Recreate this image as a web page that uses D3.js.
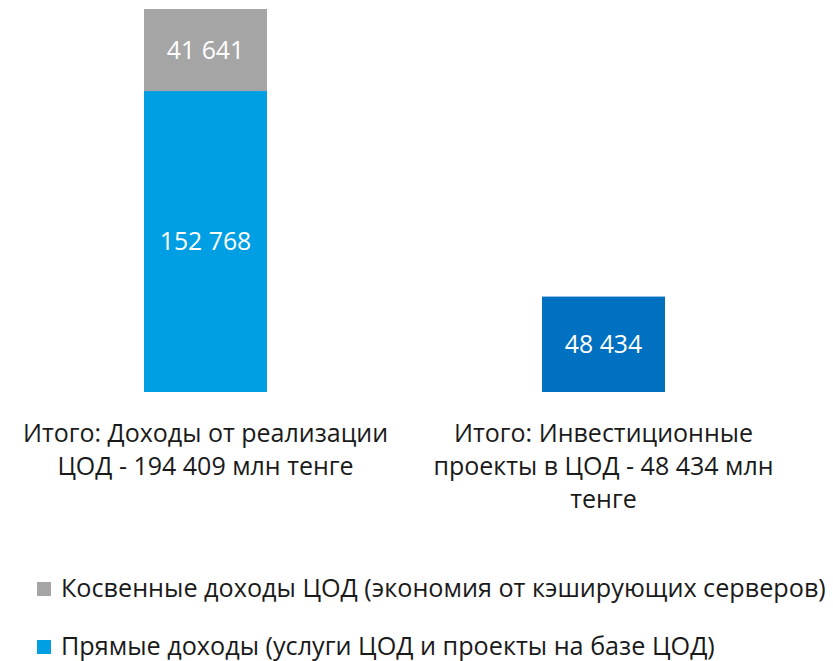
<!DOCTYPE html>
<html><head><meta charset="utf-8">
<script src="https://cdn.jsdelivr.net/npm/d3@7"></script>
<style>body{margin:0;background:#fff}svg{display:block}text{font-family:"Open Sans","Noto Sans",sans-serif}</style>
</head><body><svg id="c" width="833" height="661"></svg>
<script>
const categories = ["rev", "inv"];
const categoryLabels = [
  ["Итого: Доходы от реализации", "ЦОД - 194 409 млн тенге"],
  ["Итого: Инвестиционные", "проекты в ЦОД - 48 434 млн", "тенге"]
];
const directValues = [152768, 0];
const indirectValues = [41641, 0];
const investValues = [0, 48434];
const seriesNames = ["Косвенные доходы ЦОД (экономия от кэширующих серверов)", "Прямые доходы (услуги ЦОД и проекты на базе ЦОД)"];
const colors = {indirect: "#A5A5A5", direct: "#009FE3", invest: "#0070C0"};

const svg = d3.select("#c");
const x = d3.scaleBand().domain(categories).range([6.5, 802.5]).paddingInner(0.691).paddingOuter(0.3455);
const y = d3.scaleLinear().domain([0, 194409]).range([392, 9]);

const rows = categories.map((c, i) => ({cat: c, direct: directValues[i], indirect: indirectValues[i], invest: investValues[i]}));
const stack = d3.stack().keys(["direct", "invest", "indirect"])(rows);
const fmt = v => d3.format(",")(v).replace(/,/g, " ");

stack.forEach(layer => {
  const g = svg.append("g");
  layer.forEach(d => {
    const v = d[1] - d[0];
    if (!v) return;
    const cat = d.data.cat;
    g.append("rect").attr("x", x(cat)).attr("width", x.bandwidth())
      .attr("y", y(d[1])).attr("height", y(d[0]) - y(d[1])).attr("fill", colors[layer.key]);
    g.append("text").attr("x", x(cat) + x.bandwidth() / 2).attr("y", (y(d[0]) + y(d[1])) / 2)
      .attr("dy", "0.36em").attr("text-anchor", "middle").attr("fill", "#fff")
      .attr("font-size", 24.8).text(fmt(v));
  });
});

categories.forEach((c, i) => {
  const t = svg.append("text").attr("text-anchor", "middle").attr("fill", "#1a1a1a").attr("font-size", 25);
  categoryLabels[i].forEach((line, j) => {
    t.append("tspan").attr("x", x(c) + x.bandwidth() / 2).attr("y", 442 + j * 33).text(line);
  });
});

const legendColors = [colors.indirect, colors.direct];
seriesNames.forEach((n, i) => {
  const yy = 597 + i * 58;
  svg.append("rect").attr("x", 37).attr("y", yy - 15).attr("width", 14).attr("height", 14).attr("fill", legendColors[i]);
  svg.append("text").attr("x", 61).attr("y", yy).attr("fill", "#1a1a1a").attr("font-size", 25.2).text(n);
});
</script></body></html>
